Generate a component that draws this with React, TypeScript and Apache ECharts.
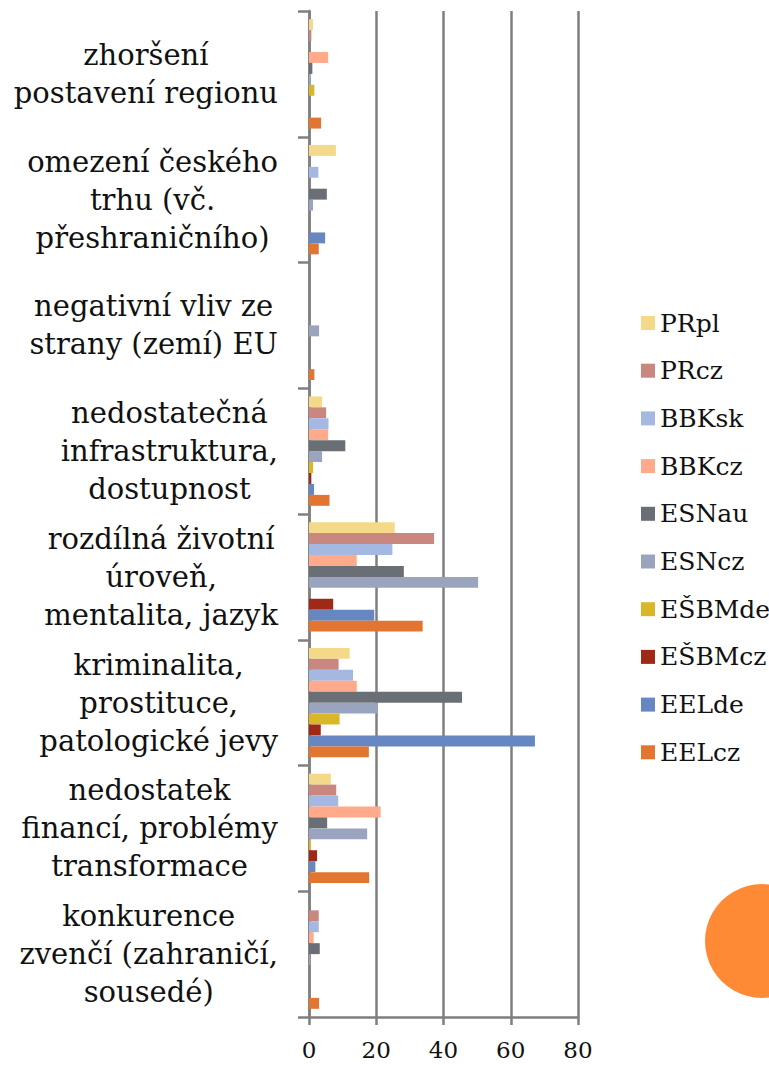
import React, { useEffect, useRef } from "react";
import * as echarts from "echarts";

const categories = [
  "zhoršení\npostavení regionu",
  "omezení českého\ntrhu (vč.\npřeshraničního)",
  "negativní vliv ze\nstrany (zemí) EU",
  "nedostatečná\ninfrastruktura,\ndostupnost",
  "rozdílná životní\núroveň,\nmentalita, jazyk",
  "kriminalita,\nprostituce,\npatologické jevy",
  "nedostatek\nfinancí, problémy\ntransformace",
  "konkurence\nzvenčí (zahraničí,\nsousedé)",
];

const seriesNames = ["PRpl", "PRcz", "BBKsk", "BBKcz", "ESNau", "ESNcz", "EŠBMde", "EŠBMcz", "EELde", "EELcz"];

const PRpl = [1.2, 8.0, 0, 3.9, 25.5, 12.1, 6.5, 0];
const PRcz = [0.7, 0, 0, 5.1, 37.2, 8.8, 8.1, 2.9];
const BBKsk = [0, 2.8, 0, 5.8, 24.8, 13.1, 8.7, 2.9];
const BBKcz = [5.7, 0, 0, 5.7, 14.2, 14.2, 21.3, 1.4];
const ESNau = [1.0, 5.3, 0, 10.8, 28.2, 45.5, 5.4, 3.2];
const ESNcz = [0.6, 1.2, 3.0, 3.9, 50.3, 20.4, 17.3, 0.4];
const ESBMde = [1.6, 0, 0, 1.2, 0, 9.1, 0.6, 0];
const ESBMcz = [0, 0, 0, 0.7, 7.2, 3.5, 2.4, 0];
const EELde = [0, 4.8, 0, 1.5, 19.4, 67.2, 1.9, 0];
const EELcz = [3.6, 2.9, 1.6, 6.1, 33.8, 17.8, 17.9, 3.0];

const seriesValues = [PRpl, PRcz, BBKsk, BBKcz, ESNau, ESNcz, ESBMde, ESBMcz, EELde, EELcz];

const colors = ["#F5D98A", "#C98780", "#A4B8E2", "#FFAA8A", "#6A6E75", "#9AA4BE", "#DAB728", "#A02817", "#6787C2", "#E27631"];

const xTicks = [0, 20, 40, 60, 80];

const FONT = "'DejaVu Serif', 'Liberation Serif', serif";
const GRAY = "#7f7f7f";

export default function App() {
  const ref = useRef<HTMLDivElement>(null);
  useEffect(() => {
    if (!ref.current) return;
    const chart = echarts.init(ref.current, null, { renderer: "svg" });
    chart.setOption({
      animation: false,
      backgroundColor: "#ffffff",
      color: colors,
      grid: { left: 309, right: 191, top: 11, bottom: 48, containLabel: false, outerBoundsMode: "none" },
      legend: {
        orient: "vertical",
        left: 636,
        top: 305.5,
        itemWidth: 14,
        itemHeight: 14,
        itemGap: 22.7,
        icon: "rect",
        data: seriesNames,
        textStyle: { fontFamily: FONT, fontSize: 25, color: "#111", lineHeight: 25 },
      },
      xAxis: {
        type: "value",
        min: xTicks[0],
        max: xTicks[xTicks.length - 1],
        interval: 20,
        axisLine: { show: true, lineStyle: { color: GRAY, width: 2.5 } },
        axisTick: { show: true, length: 8, lineStyle: { color: GRAY, width: 2.5 } },
        splitLine: { show: true, lineStyle: { color: GRAY, width: 2.5 } },
        axisLabel: { fontFamily: FONT, fontSize: 23, color: "#111", margin: 21 },
      },
      yAxis: {
        type: "category",
        inverse: true,
        data: categories,
        axisLine: { show: true, lineStyle: { color: GRAY, width: 2.5 } },
        axisTick: { show: true, length: 11, lineStyle: { color: GRAY, width: 2.5 } },
        axisLabel: {
          interval: 0,
          margin: 31,
          formatter: (v: string) => v.split("\n").map((l) => `{c|${l}}`).join("\n"),
          rich: {
            c: { align: "center", fontFamily: FONT, fontSize: 29, lineHeight: 38, color: "#111" },
          },
        },
      },
      series: seriesNames.map((name, i) => ({
        name,
        type: "bar",
        data: seriesValues[i],
        barGap: "0%",
        barCategoryGap: "13%",
        itemStyle: { color: colors[i] },
      })),
      graphic: [
        {
          type: "circle",
          shape: { cx: 762, cy: 941, r: 57 },
          style: { fill: "#FF8A36" },
          z: 10,
        },
      ],
    });
    return () => chart.dispose();
  }, []);
  return <div ref={ref} style={{ position: "absolute", left: 0, top: 0, width: 769, height: 1065 }} />;
}
